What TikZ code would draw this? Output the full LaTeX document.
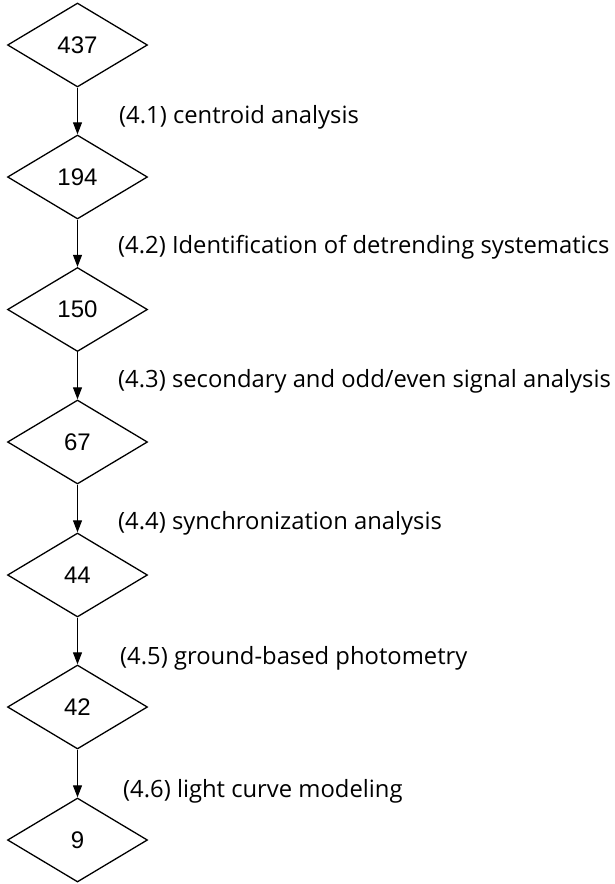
\documentclass[tikz,border=0pt]{standalone}
\usepackage{fontspec}
\usetikzlibrary{shapes.geometric,arrows.meta}
\newfontfamily\labfont{Open Sans}
\newfontfamily\numfont{Liberation Sans}
\begin{document}
\begin{tikzpicture}[x=1pt,y=-1pt,
  dia/.style={diamond,draw,line width=1.3pt,minimum width=140pt,minimum height=84pt,aspect=1.667,inner sep=1pt,font=\numfont\fontsize{24}{28}\selectfont},
  lab/.style={anchor=west,inner sep=0pt,font=\labfont\fontsize{23.8}{28}\selectfont},
  arr/.style={draw,line width=1pt,-{Triangle[length=12pt,width=9pt]}}]
\useasboundingbox (0,0) rectangle (614,884);
\node[dia] (n1) at (77.5,45) {437};
\node[dia] (n2) at (77.5,177) {194};
\node[dia] (n3) at (77.5,309.5) {150};
\node[dia] (n4) at (77.5,442) {67};
\node[dia] (n5) at (77.5,575) {44};
\node[dia] (n6) at (77.5,707) {42};
\node[dia] (n7) at (77.5,840) {9};
\node[lab] (l1) at (119,117) {(4.1) centroid analysis};
\node[lab] (l2) at (118,247) {(4.2) Identification of detrending systematics};
\node[lab] (l3) at (118,381) {(4.3) secondary and odd/even signal analysis};
\node[lab] (l4) at (118,523) {(4.4) synchronization analysis};
\node[lab] (l5) at (120,658) {(4.5) ground-based photometry};
\node[lab] (l6) at (123,791) {(4.6) light curve modeling};
\draw[arr] (n1.south) -- (n2.north);
\draw[arr] (n2.south) -- (n3.north);
\draw[arr] (n3.south) -- (n4.north);
\draw[arr] (n4.south) -- (n5.north);
\draw[arr] (n5.south) -- (n6.north);
\draw[arr] (n6.south) -- (n7.north);
\end{tikzpicture}
\end{document}
